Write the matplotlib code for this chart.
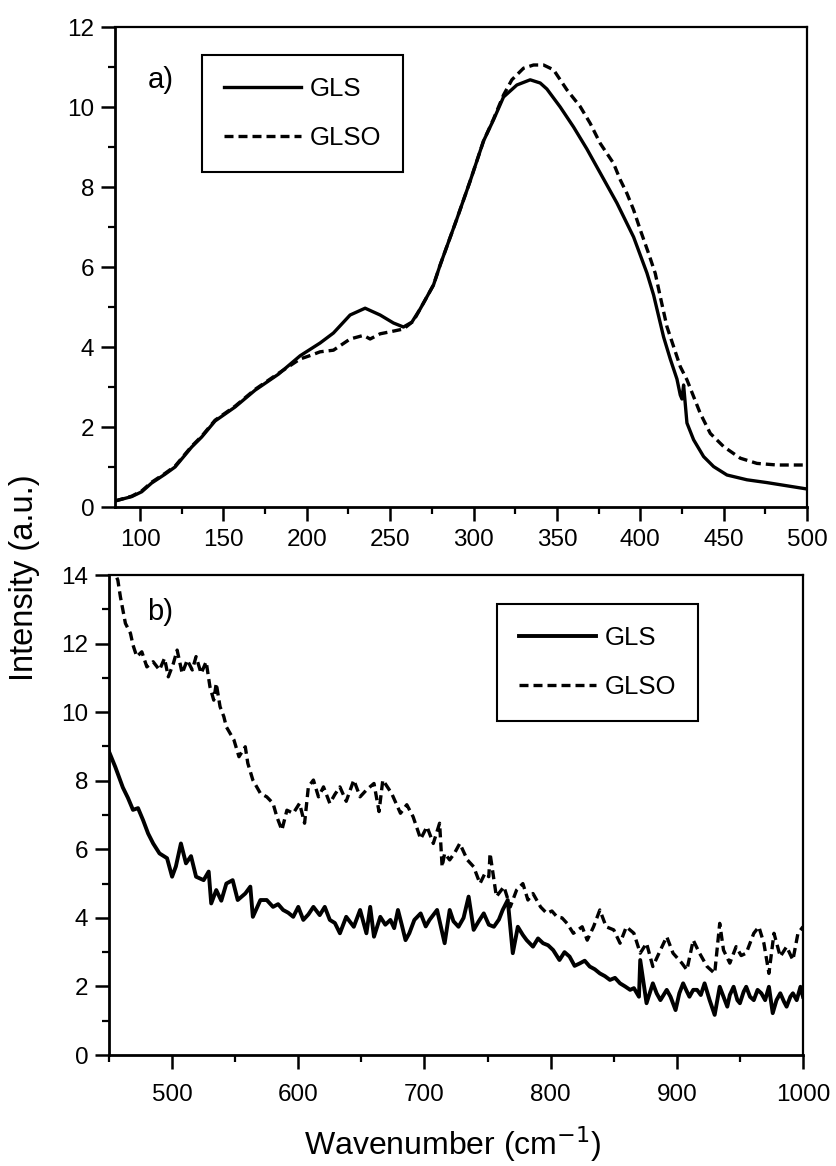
import matplotlib
matplotlib.use("Agg")
import matplotlib.pyplot as plt
from matplotlib.ticker import MultipleLocator

plt.rcParams['font.family'] = ['Liberation Sans', 'DejaVu Sans']

# ---- panel a) data ----
gls_a_x = [85, 95, 101, 107, 115, 121, 131, 137, 145, 157, 169, 183, 196, 208,
           216, 226, 235, 244, 252, 258, 263, 268, 276, 280, 290, 298, 306, 312,
           318, 326, 334, 340, 344, 352, 360, 368, 378, 386, 396, 404, 408, 414,
           418, 422, 424, 425, 426, 428, 432, 438, 444, 452, 464, 476, 488, 500]
gls_a_y = [0.15, 0.26, 0.38, 0.6, 0.82, 1.0, 1.5, 1.75, 2.15, 2.5, 2.92, 3.32, 3.78, 4.1,
           4.35, 4.8, 4.97, 4.8, 4.6, 4.5, 4.62, 4.95, 5.55, 6.05, 7.2, 8.15, 9.15, 9.68,
           10.25, 10.55, 10.68, 10.6, 10.45, 10.0, 9.5, 8.95, 8.2, 7.6, 6.75, 5.85, 5.3, 4.25,
           3.7, 3.2, 2.8, 2.7, 3.05, 2.1, 1.68, 1.26, 1.01, 0.8, 0.68, 0.61, 0.53, 0.45]

glso_a_x = [85, 95, 101, 107, 115, 121, 131, 137, 145, 157, 169, 183, 196, 203, 208,
            216, 226, 234, 238, 244, 250, 258, 264, 268, 276, 280, 290, 298, 306, 312,
            318, 323, 330, 336, 342, 348, 356, 364, 370, 376, 384, 388, 392, 396, 400,
            405, 409, 412, 416, 420, 424, 428, 432, 436, 442, 450, 460, 470, 482, 500]
glso_a_y = [0.15, 0.27, 0.4, 0.62, 0.84, 1.02, 1.52, 1.77, 2.17, 2.52, 2.94, 3.34, 3.7, 3.8, 3.88,
            3.92, 4.2, 4.29, 4.2, 4.33, 4.38, 4.45, 4.65, 4.95, 5.55, 6.05, 7.2, 8.15, 9.15, 9.7,
            10.3, 10.68, 10.97, 11.05, 11.05, 10.93, 10.43, 10.01, 9.59, 9.09, 8.59, 8.18, 7.84, 7.43, 6.93,
            6.34, 5.84, 5.26, 4.51, 4.01, 3.51, 3.18, 2.76, 2.34, 1.84, 1.51, 1.22, 1.09, 1.05, 1.05]

# ---- panel b) data ----
gls_b_x = [450, 455, 461, 465, 469, 473, 477, 481, 485, 490, 496, 500, 503, 507, 511,
           515, 519, 525, 529, 531, 535, 539, 543, 548, 552, 558, 562, 564, 570, 575,
           580, 584, 588, 592, 596, 600, 604, 608, 612, 617, 621, 625, 629, 633, 638,
           644, 649, 654, 657, 660, 665, 669, 673, 676, 679, 682, 685, 688, 692, 697,
           701, 704, 710, 716, 720, 723, 727, 731, 735, 739, 743, 747, 751, 755, 759,
           762, 766, 770, 774, 778, 781, 786, 790, 794, 798, 802, 807, 811, 815, 819,
           823, 827, 831, 835, 839, 843, 847, 851, 855, 859, 863, 866, 870, 871, 876,
           881, 884, 887, 892, 895, 899, 902, 905, 908, 910, 913, 916, 919, 922, 926,
           930, 934, 937, 940, 942, 945, 948, 950, 953, 955, 958, 961, 964, 967, 970,
           973, 976, 979, 982, 985, 987, 990, 992, 995, 998, 1000]
gls_b_y = [8.85, 8.4, 7.8, 7.5, 7.15, 7.2, 6.85, 6.46, 6.17, 5.88, 5.74, 5.2, 5.5, 6.17, 5.59,
           5.8, 5.2, 5.1, 5.35, 4.42, 4.81, 4.5, 5.0, 5.1, 4.52, 4.71, 4.91, 4.03, 4.52, 4.52,
           4.32, 4.4, 4.23, 4.15, 4.03, 4.32, 3.94, 4.1, 4.32, 4.08, 4.32, 3.94, 3.85, 3.55, 4.03,
           3.74, 4.23, 3.55, 4.32, 3.45, 4.03, 3.8, 3.94, 3.7, 4.23, 3.8, 3.35, 3.55, 3.94, 4.13,
           3.75, 3.94, 4.23, 3.26, 4.23, 3.9, 3.74, 4.0, 4.62, 3.65, 3.9, 4.13, 3.8, 3.74, 3.95,
           4.23, 4.52, 2.97, 3.74, 3.5, 3.35, 3.16, 3.4, 3.26, 3.2, 3.06, 2.77, 3.0, 2.87, 2.6,
           2.67, 2.75, 2.58, 2.5, 2.38, 2.3, 2.19, 2.25, 2.09, 2.0, 1.9, 1.95, 1.7, 2.77, 1.51,
           2.09, 1.8, 1.6, 1.9, 1.7, 1.31, 1.8, 2.09, 1.85, 1.7, 1.9, 1.9, 1.75, 2.09, 1.6,
           1.17, 1.99, 1.7, 1.41, 1.75, 1.99, 1.6, 1.51, 1.85, 1.99, 1.7, 1.6, 1.9, 1.8, 1.6,
           1.99, 1.22, 1.6, 1.8, 1.55, 1.41, 1.7, 1.8, 1.6, 1.99, 1.7]

glso_b_x = [452, 457, 459, 461, 463, 467, 469, 472, 476, 480, 485, 490, 494, 497, 501,
            504, 508, 512, 516, 519, 523, 527, 530, 533, 535, 538, 541, 543, 549, 553,
            558, 560, 564, 570, 575, 580, 583, 587, 591, 596, 601, 605, 608, 612, 616,
            620, 625, 629, 633, 638, 644, 649, 654, 660, 664, 667, 674, 681, 686, 691,
            697, 702, 707, 712, 714, 716, 720, 724, 728, 734, 739, 744, 748, 751, 752,
            757, 763, 768, 773, 778, 782, 786, 792, 797, 801, 805, 809, 813, 818, 825,
            829, 834, 839, 844, 850, 855, 860, 866, 871, 876, 881, 887, 892, 897, 904,
            908, 913, 918, 924, 930, 934, 937, 942, 947, 951, 955, 961, 965, 969, 973,
            977, 982, 987, 992, 996, 1000]
glso_b_y = [14.3, 13.85, 13.37, 12.98, 12.59, 12.3, 11.96, 11.62, 11.76, 11.32, 11.47, 11.23, 11.57, 11.03, 11.42,
            11.81, 11.13, 11.52, 11.23, 11.62, 11.13, 11.47, 10.74, 10.35, 10.84, 10.16, 9.87, 9.57, 9.19, 8.7,
            8.99, 8.51, 8.02, 7.63, 7.53, 7.34, 6.95, 6.56, 7.14, 7.05, 7.34, 6.76, 7.82, 8.02, 7.53,
            7.82, 7.34, 7.6, 7.82, 7.4, 8.02, 7.53, 7.73, 7.92, 7.1, 8.02, 7.63, 7.05, 7.3, 6.95,
            6.3, 6.66, 6.17, 6.76, 5.49, 5.88, 5.69, 5.9, 6.17, 5.69, 5.49, 5.0, 5.3, 5.2, 5.88,
            4.62, 4.91, 4.32, 4.81, 5.0, 4.52, 4.71, 4.32, 4.13, 4.2, 4.03, 4.0, 3.84, 3.55, 3.74,
            3.35, 3.74, 4.23, 3.74, 3.65, 3.26, 3.74, 3.55, 2.97, 3.26, 2.58, 3.06, 3.45, 2.97, 2.68,
            2.48, 3.35, 2.97, 2.58, 2.38, 3.84, 3.06, 2.68, 3.16, 2.9, 2.97, 3.55, 3.74, 3.26, 2.38,
            3.55, 2.87, 3.16, 2.77, 3.55, 3.74]

LW = 2.4
DASH = (2.7, 1.5)

fig = plt.figure(figsize=(8.36, 11.66), dpi=100)
ax1 = fig.add_axes([115 / 836, 1 - 507 / 1166, 692 / 836, 480 / 1166])
ax2 = fig.add_axes([109 / 836, 1 - 1055 / 1166, 694 / 836, 480 / 1166])


def style(ax, pad):
    for s in ax.spines.values():
        s.set_linewidth(1.6)
    ax.spines['left'].set_linewidth(2.0)
    ax.spines['bottom'].set_linewidth(2.0)
    ax.tick_params(which='major', direction='out', length=10, width=1.8,
                   labelsize=17.5, pad=pad)
    ax.tick_params(which='minor', direction='out', length=5, width=1.6)
    ax.tick_params(axis='y', pad=5)


def legend(ax, anchor):
    leg = ax.legend(loc='upper left', bbox_to_anchor=anchor, borderaxespad=0,
                    fontsize=18.5, handlelength=3.0, handletextpad=0.35, borderpad=0.85,
                    labelspacing=1.0, fancybox=False, framealpha=1, edgecolor='black')
    leg.get_frame().set_linewidth(1.5)


ax1.plot(gls_a_x, gls_a_y, color='black', lw=LW, label='GLS')
ax1.plot(glso_a_x, glso_a_y, color='black', lw=LW, ls=(0, DASH), label='GLSO')
ax1.set_xlim(85, 500)
ax1.set_ylim(0, 12)
ax1.xaxis.set_major_locator(MultipleLocator(50))
ax1.xaxis.set_minor_locator(MultipleLocator(25))
ax1.yaxis.set_major_locator(MultipleLocator(2))
ax1.yaxis.set_minor_locator(MultipleLocator(1))
style(ax1, 6)
ax1.text(0.047, 0.89, 'a)', transform=ax1.transAxes, fontsize=21, va='center')
legend(ax1, (0.126, 0.942))

ax2.plot(gls_b_x, gls_b_y, color='black', lw=2.8, label='GLS')
ax2.plot(glso_b_x, glso_b_y, color='black', lw=LW, ls=(0, DASH), label='GLSO')
ax2.set_xlim(450, 1000)
ax2.set_ylim(0, 14)
ax2.xaxis.set_major_locator(MultipleLocator(100))
ax2.xaxis.set_minor_locator(MultipleLocator(50))
ax2.yaxis.set_major_locator(MultipleLocator(2))
ax2.yaxis.set_minor_locator(MultipleLocator(1))
style(ax2, 11)
ax2.text(0.055, 0.923, 'b)', transform=ax2.transAxes, fontsize=21, va='center')
legend(ax2, (0.559, 0.94))

fig.text(25 / 836, 1 - 578 / 1166, 'Intensity (a.u.)', rotation=90,
         ha='center', va='center', fontsize=23.5)
fig.text(453 / 836, 1 - 1144 / 1166, 'Wavenumber (cm$^{-1}$)',
         ha='center', va='center', fontsize=23)

fig.savefig('out.png', dpi=100)
